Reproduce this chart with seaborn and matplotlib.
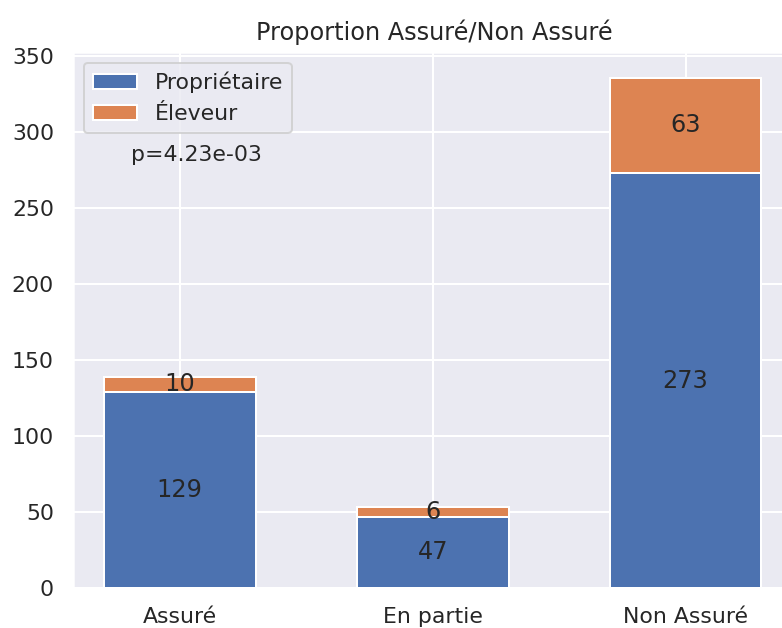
import numpy as np
import pandas as pd
import matplotlib
matplotlib.use("Agg")
import matplotlib.pyplot as plt
import seaborn as sns

# values
categories = ["Assuré", "En partie", "Non Assuré"]
proprietaire = [129, 47, 273]
eleveur = [10, 6, 63]
p_value = 4.23e-03

sns.set_theme(style="darkgrid")
colors = sns.color_palette("deep")

fig = plt.figure(figsize=(782 / 144, 628 / 144), dpi=144)
ax = fig.add_axes([0.0934, 0.0637, 0.925, 0.8535])

df = pd.DataFrame({"cat": categories, "prop": proprietaire, "elev": eleveur})

sns.barplot(data=df, x="cat", y="prop", color=colors[0], saturation=1,
            width=0.6, label="Propriétaire", ax=ax)
sns.barplot(data=df, x="cat", y="elev", bottom=df["prop"].to_numpy(),
            color=colors[1], saturation=1, width=0.6, label="Éleveur", ax=ax)

for cont in ax.containers:
    ax.bar_label(cont, label_type="center", fontsize=12)

# same limits as plain matplotlib bars, with vertical grid back on
ax.set_xlim(-0.422, 2.438)
ax.xaxis.grid(True)
ax.set_xlabel("")
ax.set_ylabel("")
ax.set_title("Proportion Assuré/Non Assuré", fontsize=12)
ax.legend(loc="upper left", fontsize=11)
ax.text(0.17, 0.808, "p=%.2e" % p_value, transform=ax.transAxes,
        ha="center", va="center", fontsize=11)

fig.savefig("out.png", dpi=144)
